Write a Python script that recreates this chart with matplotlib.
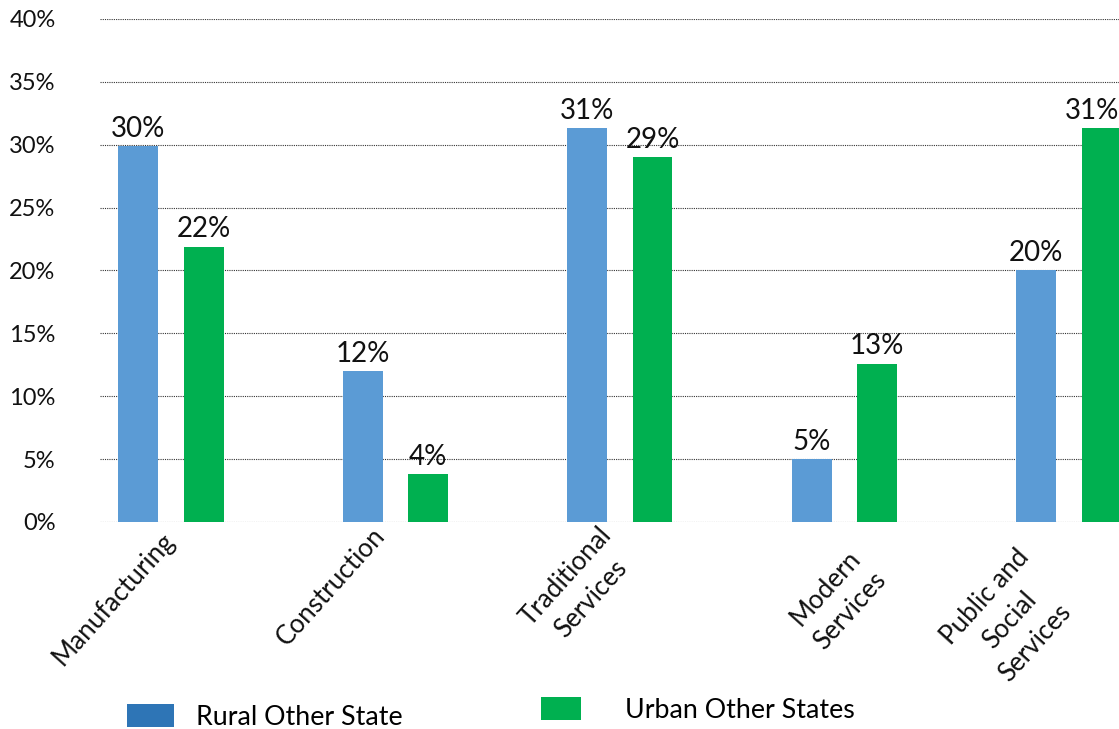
import matplotlib
matplotlib.use("Agg")
import matplotlib.pyplot as plt
from matplotlib.patches import Patch
import numpy as np

categories = ["Manufacturing", "Construction", "Traditional\nServices",
              "Modern\nServices", "Public and\nSocial\nServices"]
rural = [29.9, 12.0, 31.3, 5.0, 20.0]
urban = [21.9, 3.8, 29.0, 12.6, 31.3]
series_names = ["Rural Other State", "Urban Other States"]
y_ticks = [0, 5, 10, 15, 20, 25, 30, 35, 40]

BLUE = "#5B9BD5"
BLUE_LEGEND = "#2E75B6"
GREEN = "#00B050"
TXT = "#111111"

# the category labels in the original were placed by hand: nudge (pixels) per label
label_nudge = [(-10, -6), (-24, -1), (-22, 0), (3, -23), (-54, -23)]

plt.rcParams["font.family"] = ["Lato", "DejaVu Sans"]


def draw_bars(ax):
    x = np.arange(len(categories))
    w = 0.178
    off = 0.145
    b1 = ax.bar(x - off, rural, w, color=BLUE, zorder=3)
    b2 = ax.bar(x + off, urban, w, color=GREEN, zorder=3)
    right = ax.get_xlim()[1]
    for bars, vals in ((b1, rural), (b2, urban)):
        for rect, v in zip(bars, vals):
            # keep the label of a bar cut by the right edge inside the figure
            dx = -7 if rect.get_x() + rect.get_width() > right else 0
            ax.annotate(f"{v:.0f}%", (rect.get_x() + rect.get_width() / 2, v),
                        xytext=(dx, 3), textcoords="offset points",
                        ha="center", va="bottom", fontsize=20, color=TXT,
                        clip_on=False)

    for i, lab in enumerate(categories):
        ax.annotate(lab, (i, 0), xytext=label_nudge[i], textcoords="offset pixels",
                    rotation=48, rotation_mode="anchor", ha="right", va="top",
                    multialignment="center", linespacing=1.45,
                    fontsize=18.7, color=TXT, annotation_clip=False)


def style_ax(ax):
    ax.set_ylim(0, 40)
    ax.set_xlim(-0.316, 4.223)
    ax.set_yticks(y_ticks)
    ax.set_yticklabels([f"{t}%" for t in y_ticks], fontsize=17, color=TXT)
    ax.set_xticks([])
    ax.tick_params(axis="y", length=0, pad=32)
    for s in ax.spines.values():
        s.set_visible(False)
    ax.yaxis.grid(True, color="#333333", linestyle=(0, (1, 1)), linewidth=0.8,
                  zorder=0)
    ax.set_axisbelow(True)


def draw_legend(ax):
    fig = ax.figure
    h1 = Patch(facecolor=BLUE_LEGEND, edgecolor="none")
    h2 = Patch(facecolor=GREEN, edgecolor="none")
    leg1 = ax.legend([h1], [series_names[0]], loc="center left",
                     bbox_to_anchor=(0.1135, 0.0165), bbox_transform=fig.transFigure,
                     frameon=False, fontsize=19.3, handlelength=1.74,
                     handleheight=0.91, handletextpad=0.85, borderpad=0,
                     borderaxespad=0)
    ax.add_artist(leg1)
    ax.legend([h2], [series_names[1]], loc="center left",
              bbox_to_anchor=(0.4835, 0.026), bbox_transform=fig.transFigure,
              frameon=False, fontsize=19.3, handlelength=1.48,
              handleheight=0.91, handletextpad=1.65, borderpad=0, borderaxespad=0)


def main():
    fig = plt.figure(figsize=(11.19, 7.29), dpi=100)
    ax = fig.add_axes([0.0894, 0.284, 0.9106, 0.69])
    style_ax(ax)
    draw_bars(ax)
    draw_legend(ax)
    fig.savefig("out.png", dpi=100)


if __name__ == "__main__":
    main()
